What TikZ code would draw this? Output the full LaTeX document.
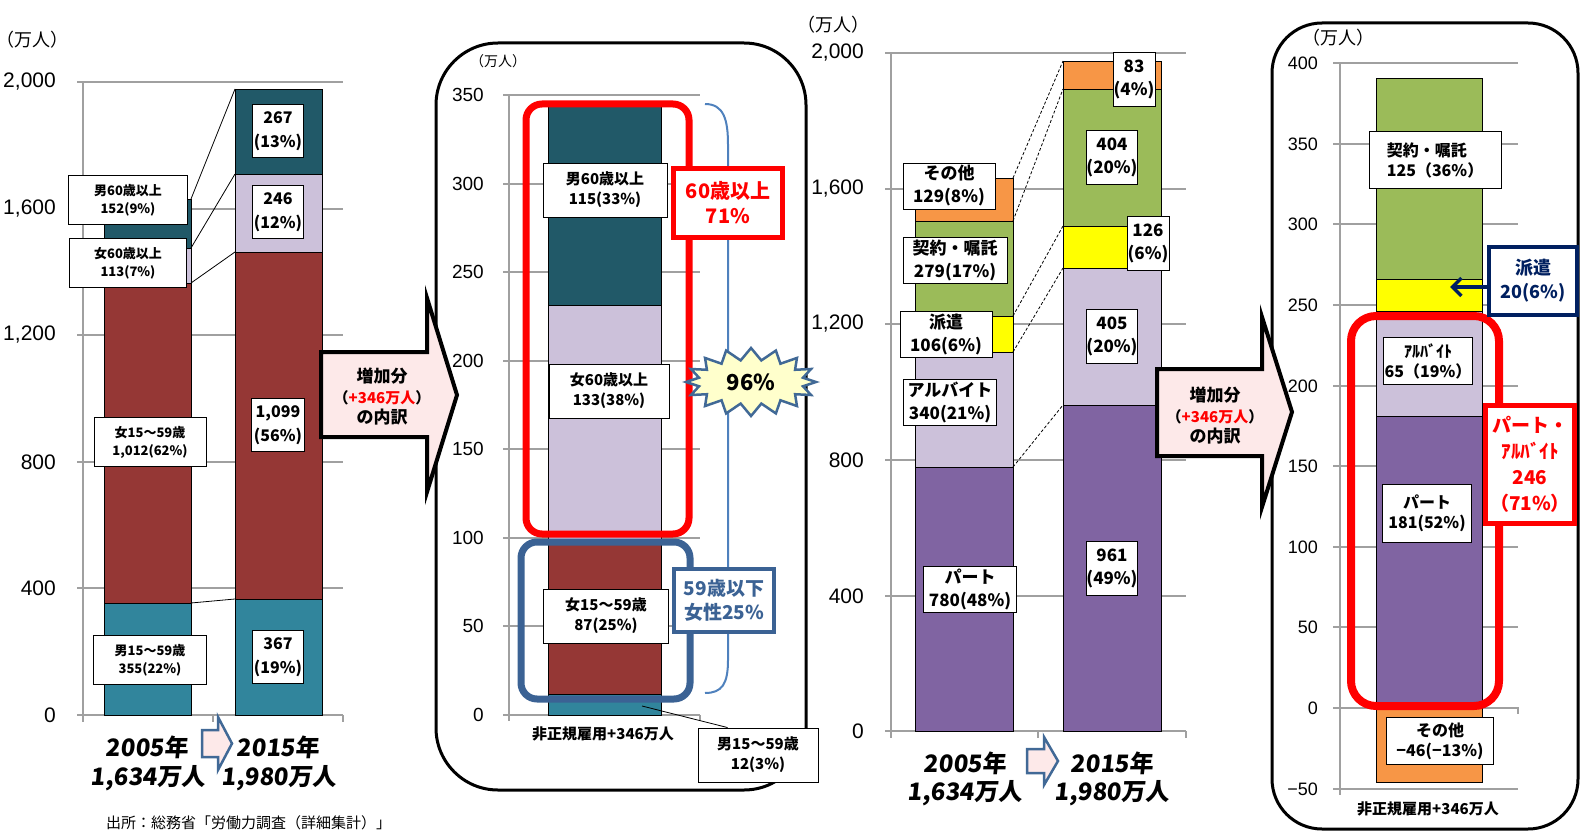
\documentclass[tikz,border=0pt]{standalone}
\usepackage{fontspec}
\setmainfont{Noto Sans CJK JP}
\newfontfamily\axisfont{Liberation Sans}
\newfontfamily\popfont[FakeSlant=0.1]{Noto Sans CJK JP}
\usetikzlibrary{positioning,shapes.symbols,arrows.meta}
\newcommand\fsz[2]{\fontsize{#1}{#2}\selectfont}

\definecolor{teal1}{RGB}{49,133,156}
\definecolor{dteal}{RGB}{33,89,104}
\definecolor{red1}{RGB}{149,55,53}
\definecolor{lav}{RGB}{204,193,218}
\definecolor{purp}{RGB}{128,100,162}
\definecolor{yel}{RGB}{255,255,0}
\definecolor{grn}{RGB}{155,187,89}
\definecolor{org}{RGB}{247,150,70}
\definecolor{gridgray}{RGB}{160,160,160}
\definecolor{pinkfill}{RGB}{253,233,233}
\definecolor{boxblue}{RGB}{59,98,148}
\definecolor{braceblue}{RGB}{79,129,189}
\definecolor{burstblue}{RGB}{65,105,150}
\definecolor{burstfill}{RGB}{255,255,204}
\definecolor{navy}{RGB}{0,32,96}

\begin{document}
\begin{tikzpicture}[x=1pt, y=-1pt,
  grid/.style={draw=gridgray, line width=1.2pt},
  axis/.style={draw=gridgray, line width=1.6pt},
  seg/.style={draw=black, line width=0.8pt},
  link/.style={draw=black, line width=0.8pt},
  dlink/.style={draw=black, line width=0.8pt, dash pattern=on 3pt off 2pt},
  ylab/.style={anchor=east, inner sep=0pt, font=\axisfont\fsz{21}{24}},
  ylabs/.style={anchor=east, inner sep=0pt, font=\axisfont\fsz{18}{21}},
  unit/.style={inner sep=0pt, font=\fsz{18}{20}},
  lbox/.style={draw, fill=white, line width=0.9pt, align=center, inner sep=0pt, font=\bfseries\fsz{13}{18}},
  nbox/.style={lbox, minimum width=51pt, minimum height=53pt, font=\bfseries\fsz{16}{24}},
  mbox/.style={lbox, minimum height=54pt, font=\bfseries\fsz{15}{20}},
  rbox/.style={lbox, minimum height=46pt, font=\bfseries\fsz{17}{23}},
  qbox/.style={lbox, font=\bfseries\fsz{16}{20}},
  yr/.style={inner sep=0pt, font=\popfont\bfseries\fsz{24}{28}},
  cat/.style={inner sep=0pt, font=\bfseries\fsz{15}{18}},
  frame/.style={draw=black, line width=3pt},
  bigarrow/.style={draw=black, line width=4pt, fill=pinkfill, line join=miter},
  smallarrow/.style={draw=burstblue, line width=2.5pt, fill=pinkfill},
  arrtxt/.style={align=center, inner sep=0pt, font=\bfseries\fsz{17}{20.5}},
  redbox/.style={draw=red, line width=7pt},
  bluebox/.style={draw=boxblue, line width=7pt},
  redlbl/.style={draw=red, line width=5pt, fill=white, text=red, align=center, inner sep=0pt, font=\bfseries\fsz{20}{25}},
  bluelbl/.style={draw=boxblue, line width=4pt, fill=white, text=boxblue, align=center, inner sep=0pt, font=\bfseries\fsz{19}{24}},
  burst/.style={starburst, starburst points=16, starburst point height=12pt, random starburst=0,
    draw=burstblue, line width=2.5pt, fill=burstfill, minimum width=130pt, minimum height=68pt,
    inner sep=0pt, font=\bfseries\fsz{22}{26}},
  navylbl/.style={draw=navy, line width=4pt, fill=white, text=navy, align=center, inner sep=0pt, font=\bfseries\fsz{18}{24}},
  navyarrow/.style={draw=navy, line width=3.5pt, -{Straight Barb[length=9pt, width=18pt, line width=3.5pt]}}
]
\useasboundingbox (0,0) rectangle (1585,832);

% ---- left chart: 2005 -> 2015 by age and sex
\node[unit] (u1) at (33,40) {（万人）};
\foreach \y/\v in {715/0,588/400,462/800,335/{1,200},209/{1,600},82/{2,000}}{
  \draw[grid] (77,\y) -- (343,\y);
  \node[ylab] at (56,\y) {\v};
}
\draw[axis] (83,82) -- (83,722);
\draw[axis] (77,715) -- (343,715);
\foreach \x in {83,213,343} \draw[axis] (\x,715) -- (\x,722);

\filldraw[seg, fill=teal1] (104,715) rectangle (191,603);
\filldraw[seg, fill=red1] (104,603) rectangle (191,283);
\filldraw[seg, fill=lav] (104,283) rectangle (191,248);
\filldraw[seg, fill=dteal] (104,248) rectangle (191,199);
\filldraw[seg, fill=teal1] (235,715) rectangle (322,599);
\filldraw[seg, fill=red1] (235,599) rectangle (322,252);
\filldraw[seg, fill=lav] (235,252) rectangle (322,174);
\filldraw[seg, fill=dteal] (235,174) rectangle (322,89);

\coordinate (l05a) at (191,603); \coordinate (l15a) at (235,599);
\coordinate (l05b) at (191,283); \coordinate (l15b) at (235,252);
\coordinate (l05c) at (191,248); \coordinate (l15c) at (235,174);
\coordinate (l05d) at (191,199); \coordinate (l15d) at (235,89);
\foreach \s in {a,b,c,d} \draw[link] (l05\s) -- (l15\s);

\node[lbox, minimum width=119pt, minimum height=49pt] (m60a) at (128,200) {男60歳以上\\152(9\%)};
\node[lbox, minimum width=117pt, minimum height=49pt] (f60a) at (128,263) {女60歳以上\\113(7\%)};
\node[lbox, minimum width=112pt, minimum height=49pt] (f59a) at (150,442) {女15～59歳\\1,012(62\%)};
\node[lbox, minimum width=113pt, minimum height=49pt] (m59a) at (150,660) {男15～59歳\\355(22\%)};
\node[nbox] (m60c) at (278,131) {267\\(13\%)};
\node[nbox] (f60c) at (278,212) {246\\(12\%)};
\node[nbox, minimum width=53pt] (f59c) at (278,425) {1,099\\(56\%)};
\node[nbox] (m59c) at (278,657) {367\\(19\%)};

\node[yr] (y05a) at (147,747) {2005年};
\node[yr] (n05a) at (148,778) {1,634万人};
\node[yr] (y15a) at (278,747) {2015年};
\node[yr] (n15a) at (279,778) {1,980万人};
\filldraw[smallarrow] (202,730) -- (218,730) -- (218,717) -- (232,743.5) -- (218,770) -- (218,757) -- (202,757) -- cycle;

\node[anchor=base west, inner sep=0pt, font=\fsz{15}{18}] (src) at (106,828) {出所：総務省「労働力調査（詳細集計）」};

% ---- middle chart: increase by age and sex
\draw[frame, rounded corners=62pt] (436,43) rectangle (806,790);
\node[unit, font=\fsz{14}{16}] (u2) at (498,61) {（万人）};
\foreach \y/\v in {715/0,626/50,538/100,449/150,361/200,272/250,184/300,95/350}{
  \draw[grid] (503,\y) -- (700,\y);
  \node[ylab, font=\axisfont\fsz{19}{22}] at (484,\y) {\v};
}
\draw[axis] (509,95) -- (509,721);
\draw[axis] (503,715) -- (700,715);
\foreach \x in {509,700} \draw[axis] (\x,715) -- (\x,721);

\filldraw[seg, fill=teal1] (548,715) rectangle (661,694);
\filldraw[seg, fill=red1] (548,694) rectangle (661,540);
\filldraw[seg, fill=lav] (548,540) rectangle (661,305);
\filldraw[seg, fill=dteal] (548,305) rectangle (661,103);

\node[mbox, minimum width=124pt] (m60b) at (605,190) {男60歳以上\\115(33\%)};
\node[mbox, minimum width=120pt] (f60b) at (609,391) {女60歳以上\\133(38\%)};
\node[mbox, minimum width=125pt] (f59b) at (606,616) {女15～59歳\\87(25\%)};
\node[mbox, minimum width=120pt] (m59b) at (758,755) {男15～59歳\\12(3\%)};
\coordinate (p12) at (642,706);
\draw[link] (p12) -- ([xshift=30pt]m59b.north west);
\node[cat] (cat2) at (603,734) {非正規雇用+346万人};

\draw[redbox, rounded corners=16pt] (526,104) rectangle (689,534);
\draw[bluebox, rounded corners=16pt] (521,542) rectangle (690,699);
\draw[braceblue, line width=2pt] (705,104) .. controls (724,104) and (728,120) .. (728,145)
  -- (728,660) .. controls (728,684) and (722,693) .. (705,693);
\node[burst] (b96) at (751,382) {96\%};
\node[redlbl, minimum width=109pt, minimum height=69pt] (r60) at (728,203) {60歳以上\\71\%};
\node[bluelbl, minimum width=100pt, minimum height=63pt] (b59) at (724,600) {59歳以下\\女性25\%};

\draw[bigarrow] (321,352) -- (427,352) -- (427,298) -- (457,395) -- (427,492) -- (427,437) -- (321,437) -- cycle;
\node[arrtxt] (inc1) at (382,397) {増加分\\{\fsz{15}{20.5}（\textcolor{red}{+346万人}）}\\の内訳};

% ---- right chart: 2005 -> 2015 by employment type
\node[unit] (u3) at (833,25) {（万人）};
\foreach \y/\v in {731/0,596/400,460/800,324/{1,200},189/{1,600},53/{2,000}}{
  \draw[grid] (885,\y) -- (1186,\y);
  \node[ylab] at (864,\y) {\v};
}
\draw[axis] (891,53) -- (891,738);
\draw[axis] (885,731) -- (1186,731);
\foreach \x in {891,1038,1186} \draw[axis] (\x,731) -- (\x,738);

\filldraw[seg, fill=purp] (915,731) rectangle (1013,467);
\filldraw[seg, fill=lav] (915,467) rectangle (1013,352);
\filldraw[seg, fill=yel] (915,352) rectangle (1013,316);
\filldraw[seg, fill=grn] (915,316) rectangle (1013,221);
\filldraw[seg, fill=org] (915,221) rectangle (1013,178);
\filldraw[seg, fill=purp] (1063,731) rectangle (1161,405);
\filldraw[seg, fill=lav] (1063,405) rectangle (1161,268);
\filldraw[seg, fill=yel] (1063,268) rectangle (1161,226);
\filldraw[seg, fill=grn] (1063,226) rectangle (1161,89);
\filldraw[seg, fill=org] (1063,89) rectangle (1161,61);

\coordinate (t05a) at (1013,467); \coordinate (t15a) at (1063,405);
\coordinate (t05b) at (1013,352); \coordinate (t15b) at (1063,268);
\coordinate (t05c) at (1013,316); \coordinate (t15c) at (1063,226);
\coordinate (t05d) at (1013,221); \coordinate (t15d) at (1063,89);
\coordinate (t05e) at (1013,178); \coordinate (t15e) at (1063,61);
\foreach \s in {a,b,c,d,e} \draw[dlink] (t05\s) -- (t15\s);

\node[rbox, minimum width=92pt] (so1) at (949,186) {その他\\129(8\%)};
\node[rbox, minimum width=104pt] (ke1) at (955,260) {契約・嘱託\\279(17\%)};
\node[rbox, minimum width=92pt] (ha1) at (946,334) {派遣\\106(6\%)};
\node[rbox, minimum width=93pt] (ar1) at (950,402) {アルバイト\\340(21\%)};
\node[rbox, minimum width=93pt] (pa1) at (970,589) {パート\\780(48\%)};
\node[rbox, minimum width=42pt, minimum height=54pt] (so2) at (1134,79) {83\\(4\%)};
\node[rbox, minimum width=51pt, minimum height=54pt] (ke2) at (1112,157) {404\\(20\%)};
\node[rbox, minimum width=42pt, minimum height=54pt] (ha2) at (1148,243) {126\\(6\%)};
\node[rbox, minimum width=51pt, minimum height=54pt] (ar2) at (1112,336) {405\\(20\%)};
\node[rbox, minimum width=51pt, minimum height=54pt] (pa2) at (1112,568) {961\\(49\%)};

\node[yr] (y05b) at (965,763) {2005年};
\node[yr] (n05b) at (965,793) {1,634万人};
\node[yr] (y15b) at (1112,763) {2015年};
\node[yr] (n15b) at (1112,793) {1,980万人};
\filldraw[smallarrow] (1027,749) -- (1044,749) -- (1044,737) -- (1058,761) -- (1044,785) -- (1044,773) -- (1027,773) -- cycle;

% ---- far right chart: increase by employment type
\draw[frame, rounded corners=50pt] (1272,23) rectangle (1578,829);
\node[unit] (u4) at (1338,38) {（万人）};
\foreach \y/\v in {789/−50,708/0,627/50,547/100,466/150,386/200,305/250,224/300,144/350,63/400}{
  \draw[grid] (1333,\y) -- (1518,\y);
  \node[ylabs] at (1318,\y) {\v};
}
\draw[axis] (1340,63) -- (1340,795);
\draw[axis] (1333,708) -- (1518,708) -- (1518,714);

\filldraw[seg, fill=org] (1376,708) rectangle (1482,782);
\filldraw[seg, fill=purp] (1376,708) rectangle (1482,416);
\filldraw[seg, fill=lav] (1376,416) rectangle (1482,311);
\filldraw[seg, fill=yel] (1376,311) rectangle (1482,279);
\filldraw[seg, fill=grn] (1376,279) rectangle (1482,78);

\node[qbox, minimum width=132pt, minimum height=57pt, align=left] (ke4) at (1435,160) {契約・嘱託\\125（36\%）};
\node[qbox, minimum width=89pt, minimum height=47pt] (ar4) at (1428,361) {ｱﾙﾊﾞｲﾄ\\65（19\%）};
\node[qbox, minimum width=89pt, minimum height=58pt] (pa4) at (1427,513) {パート\\181(52\%)};
\node[qbox, minimum width=107pt, minimum height=47pt] (so4) at (1440,741) {その他\\−46(−13\%)};
\node[cat] (cat4) at (1428,809) {非正規雇用+346万人};

\draw[redbox, line width=8pt, rounded corners=25pt] (1351,316) rectangle (1499,706);
\node[redlbl, minimum width=89pt, minimum height=118pt, font=\bfseries\fsz{19}{26}] (pa4r) at (1530,464) {パート・\\ｱﾙﾊﾞｲﾄ\\246\\（71\%）};
\node[navylbl, minimum width=88pt, minimum height=68pt] (ha4) at (1533,281) {派遣\\20(6\%)};
\coordinate (hapt) at (1450,287);
\draw[navyarrow] ([yshift=-6pt]ha4.west) -- (hapt);

\draw[bigarrow] (1157,369) -- (1262,369) -- (1262,317) -- (1292,412) -- (1262,507) -- (1262,456) -- (1157,456) -- cycle;
\node[arrtxt] (inc2) at (1215,416) {増加分\\{\fsz{15}{20.5}（\textcolor{red}{+346万人}）}\\の内訳};
\end{tikzpicture}
\end{document}
